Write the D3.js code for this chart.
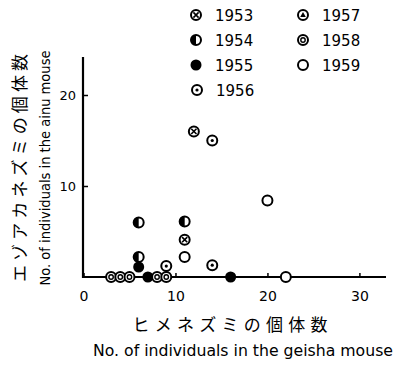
<!DOCTYPE html>
<html><head><meta charset="utf-8">
<script src="https://cdn.jsdelivr.net/npm/d3@7"></script>
<style>body{margin:0;background:#fff}svg{display:block}</style>
</head><body>
<svg id="c" width="405" height="368"></svg>
<script>
const years = ["1953","1954","1955","1956","1957","1958","1959"];
const s1953 = [[12,16],[11,4.1]];
const s1954 = [[6,6],[11,6.1],[6,2.2]];
const s1955 = [[6,1.1],[7,0],[16,0]];
const s1956 = [[14,15],[9,1.2],[14,1.3]];
const s1957 = [];
const s1958 = [[3,0],[4,0],[5,0],[8,0],[9,0]];
const s1959 = [[20,8.4],[11,2.2],[22,0]];
const xTicks = [0,10,20,30];
const yTicks = [10,20];
const seriesByYear = {"1953":s1953,"1954":s1954,"1955":s1955,"1956":s1956,"1957":s1957,"1958":s1958,"1959":s1959};

const svg = d3.select("#c");
const x = d3.scaleLinear().domain([0,33]).range([83.5,387]);
const y = d3.scaleLinear().domain([0,24]).range([277,58.6]);
const R = 5;

function sym(g, yr){
  if(yr==="1955"){ g.append("circle").attr("r",R+0.5).attr("fill","#000"); return; }
  g.append("circle").attr("r",R).attr("fill","#fff").attr("stroke","#000").attr("stroke-width",2);
  if(yr==="1953"){
    const d=2.6;
    g.append("path").attr("d",`M${-d},${-d}L${d},${d}M${d},${-d}L${-d},${d}`).attr("stroke","#000").attr("stroke-width",1.6);
  } else if(yr==="1954"){
    g.append("path").attr("d",`M0,${-R}A${R},${R} 0 0 0 0,${R}Z`).attr("fill","#000");
  } else if(yr==="1956"){
    g.append("circle").attr("r",1.6).attr("fill","#000");
  } else if(yr==="1957"){
    g.append("path").attr("d","M0,-3L2.8,2L-2.8,2Z").attr("fill","#000");
  } else if(yr==="1958"){
    g.append("circle").attr("r",2.2).attr("fill","none").attr("stroke","#000").attr("stroke-width",1.4);
  }
}

// axes
const xa = svg.append("g").attr("transform","translate(0,277)")
  .call(d3.axisBottom(x).tickValues(xTicks).tickFormat(d3.format("d")).tickSize(-4).tickPadding(14));
xa.select(".domain").remove();
xa.selectAll("text").attr("font-family","DejaVu Sans, sans-serif").attr("font-size",14).attr("fill","#000");
xa.selectAll("line").attr("stroke","#000").attr("stroke-width",1.5);
svg.append("line").attr("x1",83).attr("x2",386).attr("y1",277).attr("y2",277).attr("stroke","#000").attr("stroke-width",2);

const ya = svg.append("g").attr("transform","translate(83,0)")
  .call(d3.axisLeft(y).tickValues(yTicks).tickFormat(d3.format("d")).tickSize(-5).tickPadding(7));
ya.select(".domain").remove();
ya.selectAll("text").attr("font-family","DejaVu Sans, sans-serif").attr("font-size",13).attr("fill","#000");
ya.selectAll("line").attr("stroke","#000").attr("stroke-width",1.5);
svg.append("line").attr("x1",83).attr("x2",83).attr("y1",57).attr("y2",278).attr("stroke","#000").attr("stroke-width",2.2);

// points
years.forEach(yr=>{
  seriesByYear[yr].forEach(p=>{
    const g = svg.append("g").attr("transform",`translate(${x(p[0])},${y(p[1])})`);
    sym(g, yr);
  });
});

// legend
const legPos = {"1953":[196,15],"1954":[196,40],"1955":[196,65],"1956":[197,90],"1957":[303,15],"1958":[303,40],"1959":[303,65]};
years.forEach(yr=>{
  const [lx,ly] = legPos[yr];
  const g = svg.append("g").attr("transform",`translate(${lx},${ly})`);
  sym(g, yr);
  svg.append("text").attr("x",lx+19).attr("y",ly+5.5).text(yr)
    .attr("font-family","DejaVu Sans, sans-serif").attr("font-size",15).attr("fill","#000");
});

// titles
svg.append("text").attr("x",230).attr("y",331).attr("text-anchor","middle")
  .attr("font-family","Noto Sans CJK JP, sans-serif").attr("font-size",17)
  .attr("textLength",195).attr("lengthAdjust","spacing").text("ヒメネズミの個体数");
svg.append("text").attr("x",243).attr("y",356).attr("text-anchor","middle")
  .attr("font-family","DejaVu Sans, sans-serif").attr("font-size",15)
  .attr("textLength",300).attr("lengthAdjust","spacingAndGlyphs").text("No. of individuals in the geisha mouse");
svg.append("text").attr("transform","translate(26,168) rotate(-90)").attr("text-anchor","middle")
  .attr("font-family","Noto Sans CJK JP, sans-serif").attr("font-size",17)
  .attr("textLength",228).attr("lengthAdjust","spacing").text("エゾアカネズミの個体数");
svg.append("text").attr("transform","translate(50,168) rotate(-90)").attr("text-anchor","middle")
  .attr("font-family","DejaVu Sans, sans-serif").attr("font-size",14)
  .attr("textLength",235).attr("lengthAdjust","spacingAndGlyphs").text("No. of individuals in the ainu mouse");
</script>
</body></html>
